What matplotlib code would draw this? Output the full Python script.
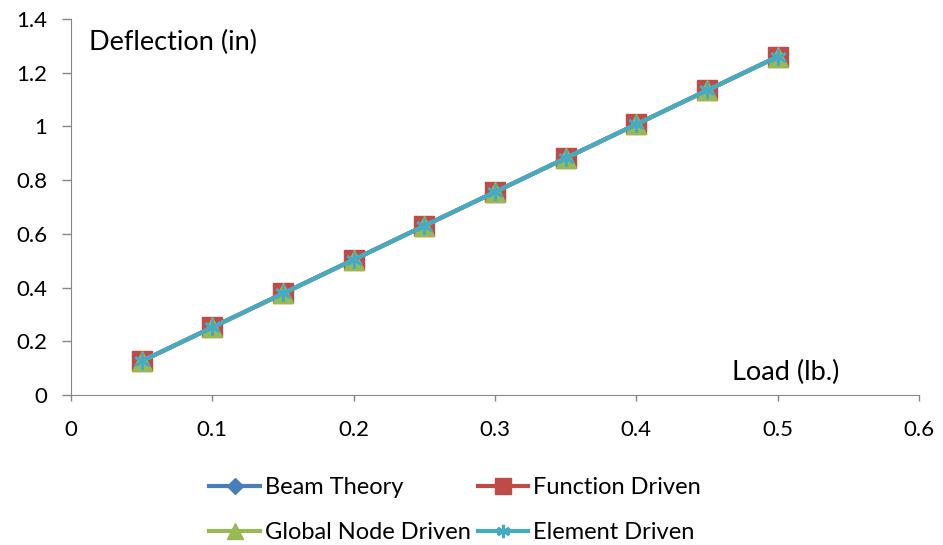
import matplotlib.pyplot as plt

plt.rcParams['font.family'] = ['Lato', 'DejaVu Sans']

# Load (lb.) and deflection (in) for each method
load = [0.05, 0.10, 0.15, 0.20, 0.25, 0.30, 0.35, 0.40, 0.45, 0.50]
beam_theory = [0.126, 0.252, 0.378, 0.504, 0.630, 0.756, 0.882, 1.008, 1.134, 1.260]
function_driven = [0.126, 0.252, 0.378, 0.504, 0.630, 0.756, 0.882, 1.008, 1.134, 1.260]
global_node_driven = [0.126, 0.252, 0.378, 0.504, 0.630, 0.756, 0.882, 1.008, 1.134, 1.260]
element_driven = [0.126, 0.252, 0.378, 0.504, 0.630, 0.756, 0.882, 1.008, 1.134, 1.260]

xticks = [0, 0.1, 0.2, 0.3, 0.4, 0.5, 0.6]
xtick_labels = ['0', '0.1', '0.2', '0.3', '0.4', '0.5', '0.6']
yticks = [0, 0.2, 0.4, 0.6, 0.8, 1.0, 1.2, 1.4]
ytick_labels = ['0', '0.2', '0.4', '0.6', '0.8', '1', '1.2', '1.4']

fig = plt.figure(figsize=(9.43, 5.45), dpi=100)
ax = fig.add_axes([0.0753, 0.2752, 0.8992, 0.6899])

h1, = ax.plot(load, beam_theory, color='#4a7ebb', lw=3, marker='D', ms=10, label='Beam Theory')
h2, = ax.plot(load, function_driven, color='#be4b48', lw=3, marker='s', ms=14,
              label='Function Driven')
h3, = ax.plot(load, global_node_driven, color='#98b954', lw=3, marker='^', ms=14,
              label='Global Node Driven')
h4, = ax.plot(load, element_driven, color='#46aac5', lw=3, marker=(6, 2, 0), ms=12, mew=2,
              label='Element Driven')

ax.set_xlim(0, 0.6)
ax.set_ylim(0, 1.4)
ax.set_xticks(xticks)
ax.set_xticklabels(xtick_labels)
ax.set_yticks(yticks)
ax.set_yticklabels(ytick_labels)
ax.tick_params(labelsize=16, colors='#868686', labelcolor='black', width=1)
ax.tick_params(axis='x', length=4.5, pad=13.5)
ax.tick_params(axis='y', length=6.5, pad=10.5)

for side in ['top', 'right']:
    ax.spines[side].set_visible(False)
for side in ['left', 'bottom']:
    ax.spines[side].set_color('#868686')

ax.text(0.0127, 1.36, 'Deflection (in)', fontsize=19.5, va='top')
ax.text(0.468, 0.130, 'Load (lb.)', fontsize=19.5, va='top')

# legend filled row by row: column-first order needs swapping
fig.legend([h1, h3, h2, h4], [h.get_label() for h in [h1, h3, h2, h4]],
           loc='center', bbox_to_anchor=(455 / 943, 0.064), ncol=2, frameon=False,
           fontsize=17, handlelength=2.15, handletextpad=0.2, columnspacing=0.3,
           labelspacing=1.0, borderpad=0, markerscale=0.8)

fig.savefig('out.png', dpi=100)
